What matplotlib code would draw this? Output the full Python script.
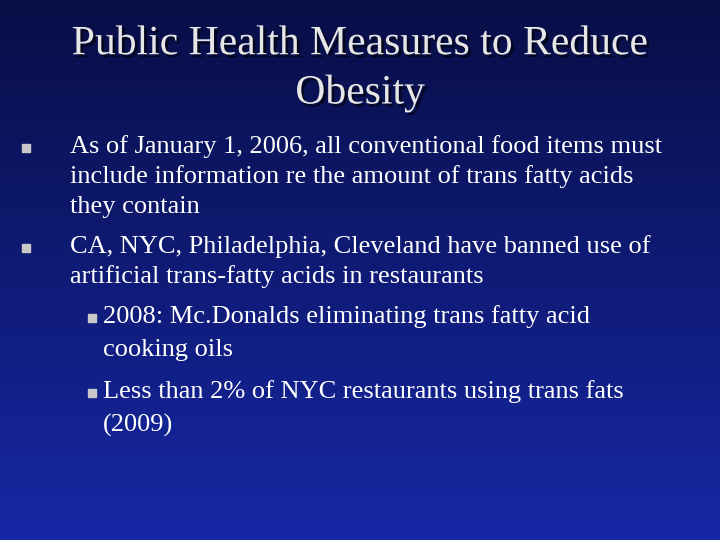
import numpy as np
import matplotlib.pyplot as plt
import matplotlib.patheffects as pe

title_lines = ["Public Health Measures to Reduce", "Obesity"]
# (level, lines)
bullets = [
    (0, ["As of January 1, 2006, all conventional food items must",
         "include information re the amount of trans fatty acids",
         "they contain"]),
    (0, ["CA, NYC, Philadelphia, Cleveland have banned use of",
         "artificial trans-fatty acids in restaurants"]),
    (1, ["2008: Mc.Donalds eliminating trans fatty acid",
         "cooking oils"]),
    (1, ["Less than 2% of NYC restaurants using trans fats",
         "(2009)"]),
]

fig = plt.figure(figsize=(7.2, 5.4), dpi=100)
ax = fig.add_axes([0, 0, 1, 1])
ax.set_xlim(0, 720)
ax.set_ylim(540, 0)
ax.axis("off")

# background gradient, dark navy at top to brighter blue at bottom
t = np.linspace(0, 1, 256)[:, None]
top = np.array([8, 14, 70]) / 255
bot = np.array([22, 40, 165]) / 255
grad = top + (bot - top) * t[..., None]
grad = np.repeat(grad, 2, axis=1)
ax.imshow(grad, extent=[0, 720, 540, 0], aspect="auto", zorder=0)

serif = "Liberation Serif"
for i, line in enumerate(title_lines):
    ax.text(360, 44 + i * 49, line, ha="center", va="center", fontsize=30,
            family=serif, color="#e6e6e6",
            path_effects=[pe.withSimplePatchShadow(offset=(2, -2), shadow_rgbFace="black", alpha=0.6)])

y = 147
x_text = {0: 70, 1: 103}
x_bul = {0: 26, 1: 92}
for level, lines in bullets:
    step = 30 if level == 0 else 33
    ax.plot(x_bul[level], y + 1, marker="s", ms=6 if level == 0 else 5.5,
            color="#c8c8c8", ls="none")
    for j, line in enumerate(lines):
        ax.text(x_text[level], y + j * step, line,
                va="center", ha="left", fontsize=19, family=serif, color="white")
    y += len(lines) * step + (10 if level == 0 else 9)

fig.savefig("out.png", dpi=100)
